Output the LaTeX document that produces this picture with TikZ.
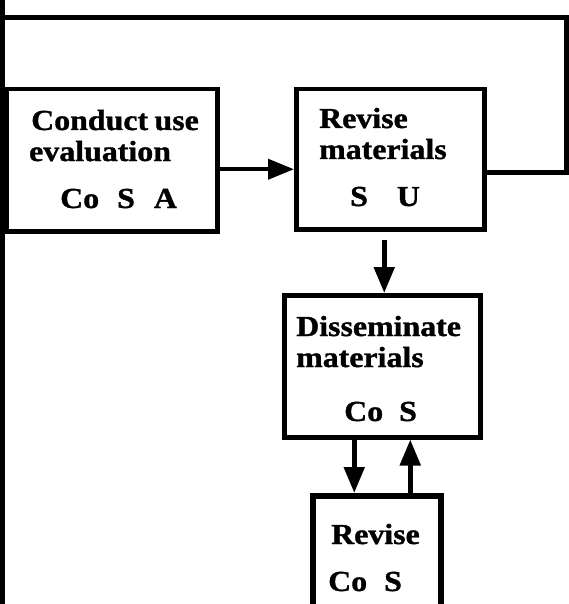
\documentclass[tikz,border=0pt]{standalone}
\usepackage{fontspec}
\setmainfont{Liberation Serif}[FakeStretch=1.1,WordSpace=0.8,BoldFeatures={FakeBold=1.2}]
\usetikzlibrary{arrows.meta}
\begin{document}
\begin{tikzpicture}[x=1pt,y=-1pt,line join=miter,
  box/.style={draw,line width=4.5pt,inner sep=0pt,anchor=north west},
  lbl/.style={anchor=base west,inner sep=0pt,font=\fontsize{29}{32}\selectfont\bfseries},
  flow/.style={line width=5pt,-{Triangle[length=26pt,width=20pt]}},
  loopline/.style={line width=5pt}]
\useasboundingbox (0,0) rectangle (568,604);
% boxes
\node[box,minimum width=211pt,minimum height=142pt] (eval) at (4,87) {};
\node[box,minimum width=188pt,minimum height=140pt] (revise) at (294,87) {};
\node[box,minimum width=196pt,minimum height=142pt] (dissem) at (282,293) {};
\node[box,line width=6pt,minimum width=128pt,minimum height=147pt] (rev4) at (310,493) {};
% thick left edge of first box and left line
\coordinate (lt) at (2,0);
\coordinate (lb) at (2,604);
\draw[line width=5pt] (lt) -- (lb);
\draw[line width=8pt] (eval.north west) -- (eval.south west);
% texts
\node[lbl] (t1a) at (31,130) {Conduct use};
\node[lbl] (t1b) at (29,161) {evaluation};
\node[lbl] (t1c) at (60,208) {Co\hspace{18pt}S\hspace{19pt}A};
\node[lbl] (t2a) at (319,128) {Revise};
\node[lbl] (t2b) at (319,159) {materials};
\node[lbl] (t2c) at (350,206) {S\hspace{29pt}U};
\node[lbl] (t3a) at (296,336) {Disseminate};
\node[lbl] (t3b) at (296,367) {materials};
\node[lbl] (t3c) at (344,421) {Co\hspace{16pt}S};
\node[lbl] (t4a) at (331,544) {Revise};
\node[lbl] (t4b) at (328,591) {Co\hspace{17pt}S};
% connectors
\draw[flow,line width=4pt] ([yshift=-9pt]eval.east) -- ([yshift=-9pt]eval.east -| revise.west);
\draw[flow] ([xshift=-6pt,yshift=-8pt]revise.south) -- ([xshift=-6pt]revise.south |- dissem.north);
\draw[flow] ([xshift=-28pt]dissem.south) -- ([xshift=-28pt]dissem.south |- rev4.north);
\draw[flow] ([xshift=28pt]dissem.south |- rev4.north) -- ([xshift=28pt]dissem.south);
\coordinate (c1) at (566,170);
\coordinate (c2) at (566,18);
\coordinate (c3) at (lt |- c2);
\draw[loopline] ([yshift=-13pt]revise.east) -- ([yshift=-13pt]revise.east -| c1) -- (c2) -- (c3);
\end{tikzpicture}
\end{document}
